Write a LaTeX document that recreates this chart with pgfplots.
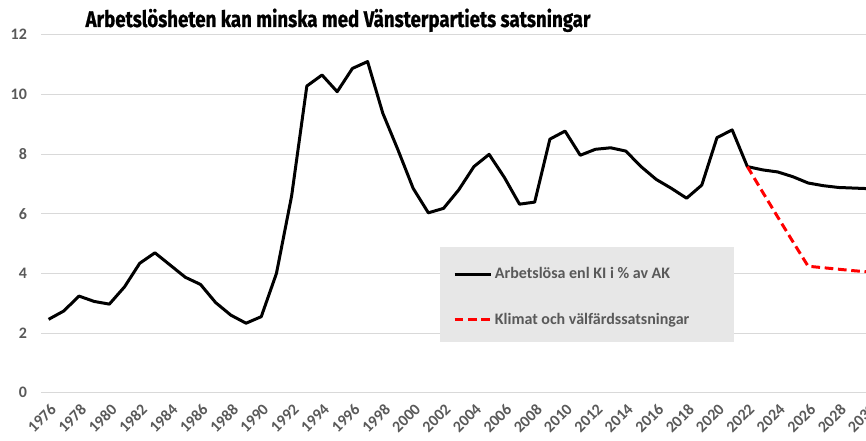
\documentclass[border=0pt]{standalone}
\usepackage{fontspec}
\setmainfont{Carlito}
\newfontfamily\titlefont[FakeStretch=0.825, BoldFeatures={FakeBold=0.8}]{Fira Sans}
\usepackage{pgfplots}
\pgfplotsset{compat=1.18}
\definecolor{gridgray}{HTML}{D9D9D9}
\definecolor{labgray}{HTML}{595959}
\definecolor{leggray}{HTML}{E7E7E7}
\begin{document}
\begin{tikzpicture}
\begin{axis}[
  at={(30.75pt,36.2pt)}, anchor=south west,
  scale only axis, width=626.6pt, height=268.5pt,
  xmin=1975.5, xmax=2030.5, ymin=0, ymax=12,
  clip=false,
  axis line style={draw=none},
  xtick={1976,1978,...,2030},
  ytick={0,2,...,12},
  ymajorgrids, grid style={gridgray, line width=0.8pt},
  major tick length=0pt,
  /pgf/number format/assume math mode=true,
  xticklabel={\pgfmathprintnumber[1000 sep={}]{\tick}},
  tick label style={font=\fontsize{12}{14}\selectfont\bfseries, text=labgray},
  xticklabel style={xshift=0.5pt, yshift=-6pt, rotate=45, anchor=north east, inner sep=1pt},
  yticklabel style={xshift=-7pt},
  legend style={at={(axis description cs:0.4883,0.268)}, anchor=west, draw=none, fill=none,
    font=\fontsize{12}{14}\selectfont\bfseries, text=labgray, row sep=24pt, column sep=2pt,
    nodes={inner sep=0pt}},
  legend cell align=left,
  legend image code/.code={\draw[#1] (0pt,0pt) -- (27pt,0pt);},
]
\fill[leggray] (axis description cs:0.4776,0.407) rectangle (axis description cs:0.8294,0.1416);
\addplot[black, line width=2.25pt, line join=round] coordinates {
(1976,2.46) (1977,2.74) (1978,3.24) (1979,3.06) (1980,2.97) (1981,3.55) (1982,4.34)
(1983,4.69) (1984,4.28) (1985,3.87) (1986,3.63) (1987,3.02) (1988,2.60) (1989,2.33)
(1990,2.55) (1991,4.00) (1992,6.60) (1993,10.28) (1994,10.65) (1995,10.09) (1996,10.87)
(1997,11.10) (1998,9.37) (1999,8.14) (2000,6.85) (2001,6.03) (2002,6.18) (2003,6.80)
(2004,7.58) (2005,7.99) (2006,7.22) (2007,6.32) (2008,6.39) (2009,8.50) (2010,8.77)
(2011,7.96) (2012,8.16) (2013,8.21) (2014,8.10) (2015,7.58) (2016,7.15) (2017,6.85)
(2018,6.52) (2019,6.96) (2020,8.55) (2021,8.81) (2022,7.58) (2023,7.47) (2024,7.40)
(2025,7.24) (2026,7.03) (2027,6.94) (2028,6.88) (2029,6.86) (2030,6.84)
};
\addlegendentry{Arbetslösa enl KI i \% av AK}
\addplot[red, line width=2.25pt, dash pattern=on 6.5pt off 3.5pt] coordinates {
(2022,7.58) (2023,6.73) (2024,5.89) (2025,5.06) (2026,4.24) (2027,4.19) (2028,4.14)
(2029,4.09) (2030,4.05)
};
\addlegendentry{Klimat och välfärdssatsningar}
\end{axis}
\node[anchor=base, font=\titlefont\fontsize{17}{20}\selectfont\bfseries] at (253.5pt,310.5pt)
  {Arbetslösheten kan minska med Vänsterpartiets satsningar};
\pgfresetboundingbox
\useasboundingbox (0,0) rectangle (649.5pt,330.75pt);
\end{tikzpicture}
\end{document}
